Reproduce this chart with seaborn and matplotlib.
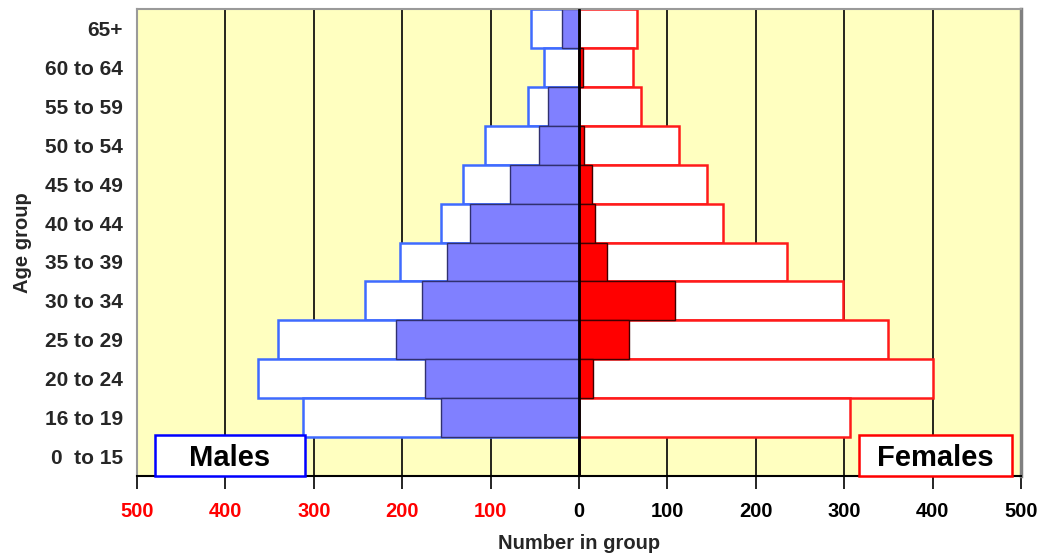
import matplotlib
matplotlib.use("Agg")
import matplotlib.pyplot as plt
import seaborn as sns
import pandas as pd
from matplotlib.patches import Rectangle

# ---- data ----
age_groups = ["65+", "60 to 64", "55 to 59", "50 to 54", "45 to 49", "40 to 44",
              "35 to 39", "30 to 34", "25 to 29", "20 to 24", "16 to 19", "0  to 15"]
males_total = [54, 40, 58, 106, 131, 156, 203, 242, 341, 363, 312, 0]
males_sub = [19, 0, 35, 45, 78, 123, 149, 178, 207, 174, 156, 0]
females_total = [66, 61, 70, 113, 145, 163, 235, 299, 349, 400, 306, 0]
females_sub = [0, 4, 0, 6, 15, 18, 32, 109, 57, 16, 0, 0]
tick_values = [-500, -400, -300, -200, -100, 0, 100, 200, 300, 400, 500]
tick_labels = ["500", "400", "300", "200", "100", "0", "100", "200", "300", "400", "500"]

df = pd.DataFrame({
    "age": age_groups,
    "m_total": [-v for v in males_total],
    "m_sub": [-v for v in males_sub],
    "f_total": females_total,
    "f_sub": females_sub,
})

sns.set_theme(style="white")
plt.rcParams["font.family"] = ["Liberation Sans", "DejaVu Sans"]

fig = plt.figure(figsize=(10.39, 5.53), dpi=100)
ax = fig.add_axes([137 / 1039, 1 - 476 / 553, 884 / 1039, 467 / 553])
ax.set_facecolor("#FFFFC0")

# gridlines
for v in tick_values[1:-1]:
    ax.axvline(v, color="black", lw=1.2, zorder=0.5)

common = dict(y="age", order=age_groups, orient="h", width=1.0, ax=ax)
sns.barplot(data=df, x="m_total", color="white", edgecolor="#3F6BFF",
            linewidth=1.8, saturation=1, **common)
sns.barplot(data=df, x="f_total", color="white", edgecolor="#FF1A1A",
            linewidth=1.8, saturation=1, **common)
sns.barplot(data=df, x="m_sub", color="#8080FF", edgecolor="#303070",
            linewidth=1.0, saturation=1, **common)
sns.barplot(data=df, x="f_sub", color="#FF0000", edgecolor="#400000",
            linewidth=1.0, saturation=1, **common)

ax.axvline(0, color="black", lw=2, zorder=5)

ax.set_xlim(-500, 500)
ax.set_ylim(len(age_groups) - 0.5, -0.5)

ax.set_xticks(tick_values)
ax.set_xticklabels(tick_labels, fontsize=14.5, fontweight="bold")
for lbl, v in zip(ax.get_xticklabels(), tick_values):
    lbl.set_color("red" if v < 0 else "black")
ax.tick_params(axis="x", bottom=True, length=9, width=1.2, color="black",
               direction="out", pad=10)
ax.tick_params(axis="y", left=False, pad=4)
for lbl in ax.get_yticklabels():
    lbl.set_fontsize(15)
    lbl.set_fontweight("bold")

ax.set_xlabel("Number in group", fontsize=14.5, fontweight="bold", labelpad=9)
ax.set_ylabel("Age group", fontsize=14.5, fontweight="bold", labelpad=9)

for side in ["left", "top"]:
    ax.spines[side].set_color("#9A9A9A")
    ax.spines[side].set_linewidth(1.5)
ax.spines["right"].set_color("#808080")
ax.spines["right"].set_linewidth(2.5)
ax.spines["bottom"].set_color("black")
ax.spines["bottom"].set_linewidth(1.5)

# labelled boxes
boxes = [("Males", 155, 305, "#0000FF"), ("Females", 859, 1012, "#FF0000")]
for text, x0, x1, col in boxes:
    fx0 = (x0 - 137) / 884
    fx1 = (x1 - 137) / 884
    fh = (476 - 435) / 467
    ax.add_patch(Rectangle((fx0, 0.0), fx1 - fx0, fh, transform=ax.transAxes,
                           facecolor="white", edgecolor=col, lw=1.8, zorder=10,
                           clip_on=False))
    ax.text((fx0 + fx1) / 2, fh / 2 - 0.006, text, transform=ax.transAxes,
            ha="center", va="center", fontsize=21, fontweight="bold",
            color="black", zorder=11)

fig.savefig("out.png", dpi=100)
